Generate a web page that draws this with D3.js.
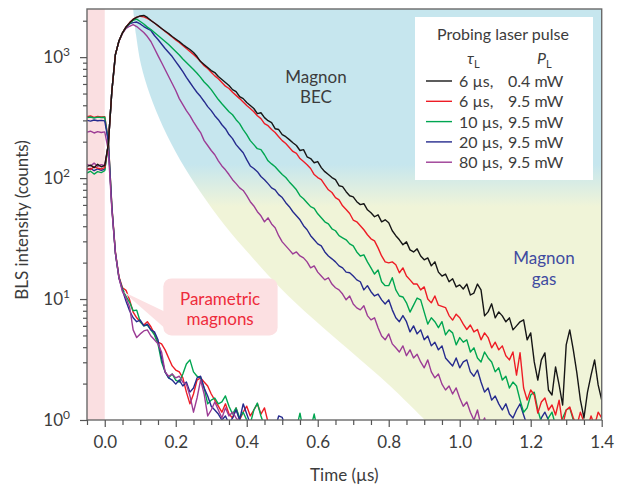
<!DOCTYPE html>
<html>
<head>
<meta charset="utf-8">
<script src="https://d3js.org/d3.v7.min.js"></script>
<style>
  body { margin: 0; background: #fff; }
  svg text { font-family: 'Lato', 'Open Sans', sans-serif; fill: #3c3c3c; }
</style>
</head>
<body>
<svg id="chart" width="619" height="489"></svg>
<script>
// sampling times (µs)
const timeUs = [-0.05,-0.04,-0.03,-0.02,-0.01,0.00,
  0.01,0.02,0.03,0.04,0.05,0.06,0.07,0.08,0.09,0.10,
  0.11,0.12,0.13,0.14,0.15,0.16,0.17,0.18,0.19,0.20,
  0.21,0.22,0.23,0.24,0.25,0.26,0.27,0.28,0.29,0.30,
  0.31,0.32,0.33,0.34,0.35,0.36,0.37,0.38,0.39,0.40,
  0.41,0.42,0.43,0.44,0.45,0.46,0.47,0.48,0.49,0.50,
  0.51,0.52,0.53,0.54,0.55,0.56,0.57,0.58,0.59,0.60,
  0.61,0.62,0.63,0.64,0.65,0.66,0.67,0.68,0.69,0.70,
  0.71,0.72,0.73,0.74,0.75,0.76,0.77,0.78,0.79,0.80,
  0.81,0.82,0.83,0.84,0.85,0.86,0.87,0.88,0.89,0.90,
  0.91,0.92,0.93,0.94,0.95,0.96,0.97,0.98,0.99,1.00,
  1.01,1.02,1.03,1.04,1.05,1.06,1.07,1.08,1.09,1.10,
  1.11,1.12,1.13,1.14,1.15,1.16,1.17,1.18,1.19,1.20,
  1.21,1.22,1.23,1.24,1.25,1.26,1.27,1.28,1.29,1.30,
  1.31,1.32,1.33,1.34,1.35,1.36,1.37,1.38,1.39,1.40];

// BEC signal (counts), one value per sampling time
const becBlack = [125,128,122,130,124,127,
  190,524,1050,1360,1590,1780,1920,2050,2130,2190,
  2210,2128,2010,1916,1827,1724,1644,1568,1480,1413,
  1346,1272,1210,1156,1092,1011,919,868,820,775,
  746,691,653,617,582,539,519,472,454,421,
  398,376,341,347,316,298,287,256,252,229,
  220,208,196,186,169,172,150,145,134,137,
  122,113,107,101,97,86.5,84.9,77.2,71.5,70,
  63.8,60.3,61.4,54.7,51.7,47.9,49.7,43.5,45.2,42.7,
  36.7,33.4,30.9,28.1,29.7,25.5,24.5,26.0,22.7,21.1,
  21.9,18.8,20.3,16.7,15.5,16.1,13.9,14.7,12.6,13.1,
  12.1,13.3,10.8,11.2,13.3,11.9,7.26,7.83,9.13,6.99,
  7.83,7.26,6.48,6.99,5.56,6.0,6.48,6.73,4.6,5.25,
  3.02,2.14,3.14,3.59,1.77,1.61,2.75,1.95,1.33,4.18,
  5.56,3.8,2.45,1.46,1.04,1.7,2.35,3.14,1.95,1.46];
const becRed = [120,118,124,121,119,122,
  190,524,1050,1360,1590,1780,1930,2060,2140,2180,
  2150,2090,2010,1916,1810,1724,1630,1550,1465,1385,
  1320,1250,1178,1113,1050,990,919,850,805,750,
  700,663,617,575,550,513,483,454,425,398,
  376,354,328,310,282,271,252,238,220,204,
  193,179,166,160,145,137,129,120,107,101,
  97,88,80,76,69,66,59,55,51,45,
  43.5,40.4,37.4,34,31.5,30.3,26.5,22.7,20.3,19.9,
  20.3,19.2,16.5,18.1,15.5,14.4,13.3,13.3,11.9,12.6,
  10.0,9.3,10.6,8.9,8.7,8.5,7.3,6.7,7.5,7.0,
  6.2,5.6,6.1,5.35,5.6,4.6,5.25,4.8,3.95,4.4,
  3.8,4.1,3.4,3.14,3.65,2.35,3.6,1.84,1.46,1.77,
  1.61,1.14,1.41,1.52,1.21,1.33,1.1,1.46,0.9,1.21,
  1.28,1.04,0.9,1.16,0.96,0.86,1.08,0.9,1.16,1.04];
const becGreen = [110,114,108,113,111,115,
  190,524,1050,1360,1590,1770,1900,2010,2060,1970,
  1880,1770,1692,1597,1510,1426,1346,1272,1190,1113,
  1040,965,902,845,790,735,680,623,582,539,
  490,446,412,382,354,334,304,282,252,229,
  204,189,175,172,156,139,131,124,115,107,
  101,93,86.5,80,71.5,67.5,62.6,58.1,56.3,50.7,
  47,43.5,41.8,38.1,36.7,33.4,32.1,30.9,28.6,27.5,
  24.5,22.7,23.2,20.3,18.1,16.1,17.4,13.9,12.9,12.9,
  15,11.9,10.6,10.4,9.3,7.8,8.9,10.2,9.85,7.8,
  6.2,7.0,6.5,5.8,6.5,5.05,5.56,5.25,4.18,4.8,
  4.4,4.6,3.65,3.95,3.26,3.02,3.65,3.26,3.02,2.5,
  2.7,2.14,2.3,1.84,2.06,1.91,1.46,1.16,1.26,1.61,
  1.7,1.21,0.96,0.83,1.04,1.16,0.9,0.8,1.04,1.21,
  1.26,1.0,0.8,0.93,0.68,0.83,0.68,0.9,0.7,0.62];
const becBlue = [117,120,115,119,116,118,
  190,524,1050,1360,1590,1760,1880,1930,1950,1880,
  1790,1724,1660,1510,1399,1285,1178,1092,1011,919,
  837,760,680,617,560,510,472,430,390,361,
  328,304,276,256,229,212,189,175,162,142,
  126,120,113,103,97,90,83,80,73,69,
  62.6,58,52.7,48.8,45.2,40.4,37.4,33.4,30.9,28.6,
  27.5,24.5,22.7,21.5,20.3,18.8,18.1,16.7,16.5,15.5,
  14.4,13.9,11.9,12.9,11.5,10.6,11.0,9.85,9.1,9.85,
  8.14,7.0,6.5,7.3,6.5,5.35,6.0,5.15,5.56,4.6,
  4.95,4.1,4.4,3.8,4.1,3.26,3.02,2.8,3.26,2.7,
  3.02,3.14,2.5,2.3,2.59,2.06,1.7,1.84,1.46,1.58,
  1.36,1.21,1.36,1.12,1.04,1.21,1.36,1.1,0.9,1.0,
  0.8,0.86,1.04,1.16,1.0,0.75];
const becPurple = [130,126,133,125,129,127,
  190,524,1050,1350,1570,1730,1800,1860,1790,1692,
  1597,1480,1346,1178,1030,902,790,691,605,530,
  454,405,361,328,292,262,238,204,186,169,
  156,139,126,117,107,97,90,83,79,71.5,
  63.8,58.8,52.7,48.8,43.5,46.9,41.8,38.9,33.4,29.7,
  27.5,25.5,23.6,24.5,22.7,21.9,20.3,18.1,18.8,16.7,
  15.5,14.4,15.0,13.3,12.4,11.9,11.0,9.85,10.6,9.1,
  8.45,8.14,8.8,7.3,6.73,7.0,5.8,4.95,4.6,5.15,
  4.26,3.95,3.65,4.1,3.4,3.8,3.26,3.5,3.02,2.7,
  3.14,2.5,2.23,2.4,1.98,1.77,1.91,1.64,1.84,1.52,
  1.3,1.41,1.16,1.0,1.21,0.9,1.04,0.83];

// parametric magnon signal (counts)
const paraRed = [322,326,318,324,320,322,
  208,59,24.5,15.3,12.4,11.8,9.85,7.8,7.0,6.5,
  6.1,6.5,5.9,5.15,4.4,4.26,3.8,3.26,2.8,2.59,
  2.5,2.23,1.7,1.36,1.64,2.14,2.23,2.06,1.91,1.64,
  1.46,1.3,1.16,1.36,1.12,1.04,1.26,1.0,1.16,1.3,
  1.08,1.21,1.36,1.12,1.26,0.96,0.85];
const paraGreen = [316,320,314,319,317,318,
  205,58,24,15,12.2,10.5,9.4,8.0,8.1,6.5,
  6.0,6.1,5.56,5.05,4.26,3.02,2.5,2.23,2.4,2.14,
  2.06,2.4,2.9,3.14,2.5,2.3,2.23,1.84,1.36,1.46,
  1.52,1.36,1.41,1.58,1.3,1.12,1.26,1.04,1.16,1.0,
  0.93,1.21,1.38,1.08,0.89,0.8,0.85,0.75,0.8,0.7,
  0.75,0.8,0.72,0.85,1.14,0.8,0.75,0.85,1.12,0.8];
const paraBlue = [300,296,302,298,300,297,
  200,57,24,15,11.8,9.6,8.0,7.0,6.5,6.7,
  6.0,6.2,5.56,5.35,4.6,3.26,2.5,2.23,2.14,1.98,
  2.14,1.91,2.06,1.7,1.84,2.23,2.3,1.84,1.58,1.3,
  1.21,1.12,1.0,1.08,0.93,1.04,1.21,1.0,1.36,1.12,
  0.93,0.85,0.8,0.9,0.78,0.82,0.9,0.85,1.08,1.05,0.85,0.8];
const paraPurple = [240,244,236,242,238,241,
  170,55,24,15,11.5,10.2,8.6,5.56,4.8,5.15,
  5.45,5.56,4.95,4.6,4.26,3.65,2.5,2.3,2.4,2.23,
  2.3,2.06,1.98,1.58,1.16,1.52,2.14,1.64,1.08,1.21,
  1.41,1.21,1.04,1.26,1.08,1.16,1.04,0.96,0.88,0.8];

// edge of the BEC / gas shaded region
const edgeTime = [0.080,0.088,0.102,0.128,0.164,0.212,0.269,0.339,0.409,0.494,0.587,0.691,0.804,0.902];
const edgeCounts = [2500,1538,868,481,266,142,77.1,40.4,23.2,12.4,6.86,3.73,1.91,1.0];

// legend
const legendTau = ["6 µs,", "6 µs,", "10 µs,", "20 µs,", "80 µs,"];
const legendPower = ["0.4 mW", "9.5 mW", "9.5 mW", "9.5 mW", "9.5 mW"];
const seriesColors = ["#161616", "#ee1c25", "#00a651", "#262b8e", "#9c3c95"];

const xMajor = [0, 0.2, 0.4, 0.6, 0.8, 1.0, 1.2, 1.4];
const yMajor = [1, 10, 100, 1000];

const svg = d3.select("#chart");
const x = d3.scaleLinear().domain([-0.05, 1.4]).range([87, 601.7]);
const y = d3.scaleLog().domain([1, 2500]).range([420, 9]);

const defs = svg.append("defs");
defs.append("clipPath").attr("id", "plot")
  .append("rect").attr("x", x(-0.05)).attr("y", y(2500))
  .attr("width", x(1.4) - x(-0.05)).attr("height", y(1) - y(2500));
const grad = defs.append("linearGradient").attr("id", "bec")
  .attr("gradientUnits", "userSpaceOnUse")
  .attr("x1", 0).attr("x2", 0).attr("y1", y(130)).attr("y2", y(58));
grad.append("stop").attr("offset", 0).attr("stop-color", "#c6e6ee");
grad.append("stop").attr("offset", 1).attr("stop-color", "#f0f4d8");

const plot = svg.append("g").attr("clip-path", "url(#plot)");

// pump pulse band
plot.append("rect")
  .attr("x", x(-0.05)).attr("y", y(2500))
  .attr("width", x(0) - x(-0.05)).attr("height", y(1) - y(2500))
  .attr("fill", "#fadfe1");

// shaded region right of the edge curve
const edgePts = edgeTime.map((t, i) => [x(t), y(edgeCounts[i])]);
const edgePath = d3.line().curve(d3.curveCatmullRom)(edgePts) +
  `L${x(1.4)},${y(1)}L${x(1.4)},${y(2500)}Z`;
plot.append("path").attr("d", edgePath).attr("fill", "url(#bec)");

// callout box for parametric magnons
const callout = svg.append("g");
callout.append("path")
  .attr("d", `M${x(0.052)},${y(11.5)}L${x(0.18)},${y(7.6)}L${x(0.18)},${y(5.4)}Z`)
  .attr("fill", "#fce0e2");
callout.append("rect")
  .attr("x", x(0.165)).attr("y", y(14.8))
  .attr("width", x(0.487) - x(0.165)).attr("height", y(5.0) - y(14.8))
  .attr("rx", 8).attr("fill", "#fce0e2");
callout.append("text").attr("x", x(0.325)).attr("y", 305)
  .attr("text-anchor", "middle").style("font-size", "17px").style("fill", "#ee2b3b")
  .text("Parametric");
callout.append("text").attr("x", x(0.325)).attr("y", 325)
  .attr("text-anchor", "middle").style("font-size", "17px").style("fill", "#ee2b3b")
  .text("magnons");

// curves
const line = d3.line()
  .x((d, i) => x(timeUs[i]))
  .y(d => y(d));
const curves = [
  [paraRed, 1], [paraGreen, 2], [paraBlue, 3], [paraPurple, 4],
  [becPurple, 4], [becBlue, 3], [becGreen, 2], [becRed, 1], [becBlack, 0]
];
plot.selectAll("path.curve")
  .data(curves)
  .enter()
  .append("path")
  .attr("class", "curve")
  .attr("d", d => line(d[0]))
  .attr("fill", "none")
  .attr("stroke", d => seriesColors[d[1]])
  .attr("stroke-width", 1.4)
  .attr("stroke-linejoin", "round");

// region labels
svg.append("text").attr("x", 316).attr("y", 83).attr("text-anchor", "middle")
  .style("font-size", "17px").text("Magnon");
svg.append("text").attr("x", 316).attr("y", 103).attr("text-anchor", "middle")
  .style("font-size", "17px").text("BEC");
svg.append("text").attr("x", 544).attr("y", 264).attr("text-anchor", "middle")
  .style("font-size", "17px").style("fill", "#3f4ba0").text("Magnon");
svg.append("text").attr("x", 544).attr("y", 285).attr("text-anchor", "middle")
  .style("font-size", "17px").style("fill", "#3f4ba0").text("gas");

// legend
const legend = svg.append("g");
legend.append("rect").attr("x", 415).attr("y", 17).attr("width", 178).attr("height", 163)
  .attr("fill", "#fff");
legend.append("text").attr("x", 437).attr("y", 40).style("font-size", "16px")
  .text("Probing laser pulse");
const tau = legend.append("text").attr("x", 467).attr("y", 64).style("font-size", "16px");
tau.append("tspan").style("font-style", "italic").text("τ");
tau.append("tspan").attr("dy", 4).style("font-size", "11px").text("L");
const pw = legend.append("text").attr("x", 537).attr("y", 64).style("font-size", "16px");
pw.append("tspan").style("font-style", "italic").text("P");
pw.append("tspan").attr("dy", 4).style("font-size", "11px").text("L");
const rows = legend.selectAll("g.row").data(legendTau).enter().append("g")
  .attr("class", "row")
  .attr("transform", (d, i) => `translate(0,${81 + i * 20.3})`);
rows.append("line").attr("x1", 426).attr("x2", 452)
  .attr("stroke", (d, i) => seriesColors[i]).attr("stroke-width", 1.4);
rows.append("text").attr("x", 459).attr("y", 6).style("font-size", "16px").text(d => d);
rows.append("text").attr("x", 508).attr("y", 6).style("font-size", "16px")
  .text((d, i) => legendPower[i]);

// frame
svg.append("rect")
  .attr("x", x(-0.05)).attr("y", y(2500))
  .attr("width", x(1.4) - x(-0.05)).attr("height", y(1) - y(2500))
  .attr("fill", "none").attr("stroke", "#6a6a6a").attr("stroke-width", 1.4);

// x axis
const xMinor = d3.range(-0.05, 1.41, 0.05).filter(v => !xMajor.some(m => Math.abs(m - v) < 1e-6));
const xAxis = svg.append("g").attr("transform", `translate(0,${y(1)})`)
  .call(d3.axisBottom(x).tickValues(xMajor).tickSize(7).tickPadding(9)
    .tickFormat(d3.format(".1f")));
svg.append("g").attr("transform", `translate(0,${y(1)})`)
  .call(d3.axisBottom(x).tickValues(xMinor).tickSize(5).tickFormat(""))
  .call(g => g.select(".domain").remove());
xAxis.select(".domain").remove();
svg.selectAll(".tick line").attr("stroke", "#555").attr("stroke-width", 1.2);
xAxis.selectAll(".tick text").style("font-size", "17px").style("fill", "#3c3c3c")
  .style("font-family", "Lato, sans-serif");

// y axis
const yMinor = [];
yMajor.forEach(p => [2,3,4,5,6,7,8,9].forEach(k => { if (p * k <= 2500) yMinor.push(p * k); }));
const yAxis = svg.append("g").attr("transform", `translate(${x(-0.05)},0)`)
  .call(d3.axisLeft(y).tickValues(yMajor).tickSize(7).tickFormat(""));
svg.append("g").attr("transform", `translate(${x(-0.05)},0)`)
  .call(d3.axisLeft(y).tickValues(yMinor).tickSize(4).tickFormat(""))
  .call(g => g.select(".domain").remove());
yAxis.select(".domain").remove();
svg.selectAll(".tick line").attr("stroke", "#555").attr("stroke-width", 1.2);
yMajor.forEach((v, i) => {
  const t = svg.append("text").attr("x", 70).attr("y", y(v) + 6)
    .attr("text-anchor", "end").style("font-size", "17px");
  t.append("tspan").text("10");
  t.append("tspan").attr("dy", -7).style("font-size", "12px").text(String(i));
});

// axis titles
svg.append("text").attr("x", x(0.675)).attr("y", 481).attr("text-anchor", "middle")
  .style("font-size", "17px").text("Time (µs)");
svg.append("text").attr("transform", `translate(28,${y(45)}) rotate(-90)`)
  .attr("text-anchor", "middle").style("font-size", "17px").text("BLS intensity (counts)");
</script>
</body>
</html>
